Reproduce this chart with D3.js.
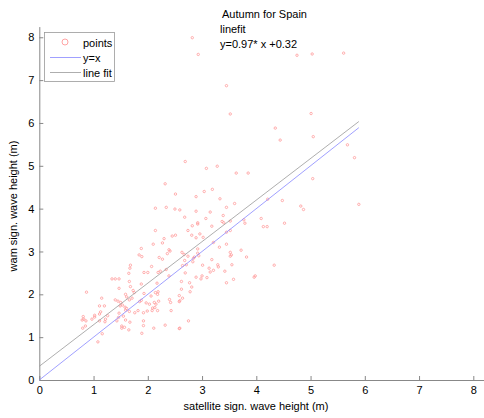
<!DOCTYPE html>
<html><head><meta charset="utf-8">
<script src="https://cdn.jsdelivr.net/npm/d3@7"></script>
<style>body{margin:0;background:#fff}svg{display:block;font-family:"Liberation Sans",Arial,sans-serif}</style>
</head><body><svg id="c" width="484" height="418"></svg>
<script>
const titleLines = ["Autumn for Spain", "linefit", "y=0.97* x +0.32"];
const xLabel = "satellite sign. wave height (m)";
const yLabel = "wam sign. wave height (m)";
const xTicks = [0,1,2,3,4,5,6,7,8];
const yTicks = [0,1,2,3,4,5,6,7,8];
const fitSlope = 0.97, fitIntercept = 0.32;
const legendLabels = ["points", "y=x", "line fit"];
const satX = [2.82,2.93,4.75,5.03,5.61,3.45,3.52,5.01,4.35,4.44,5.05,5.68,5.81,5.04,5.89,4.48,4.82,4.87,4.52,3.08,3.28,3.63,3.85,3.04,3.19,3.33,3.60,3.45,4.21,3.15,3.07,3.39,3.37,3.40,3.52,3.52,3.18,2.96,3.02,4.09,4.13,4.20,3.77,3.79,3.45,3.21,3.32,3.45,3.72,3.52,3.52,3.54,3.82,3.18,3.55,3.01,3.13,3.21,3.15,3.29,3.30,3.42,4.33,3.00,2.98,3.09,3.58,3.45,3.96,3.98,
2.63,2.67,2.92,2.92,2.94,2.86,2.84,2.74,2.68,2.83,2.64,2.71,2.69,2.89,2.62,2.77,2.81,2.78,2.62,2.64,2.59,2.75,2.59,
2.69,2.89,2.59,2.89,2.68,2.82,2.92,2.92,2.74,2.81,2.89,
2.32,2.51,2.14,2.34,2.50,2.14,2.30,2.45,2.51,
1.88,2.10,2.27,1.84,1.89,2.21,2.27,2.36,2.39,2.41,1.68,1.67,1.65,2.07,1.93,2.00,2.19,2.23,2.34,2.39,1.34,1.40,1.47,1.66,1.88,2.17,1.68,0.87,1.47,1.73,1.75,1.59,1.61,1.93,2.14,2.18,2.19,2.06,1.15,1.40,1.45,1.50,1.66,1.71,1.85,1.88,1.97,2.03,2.12,2.15,2.20,2.40,2.42,2.58,2.58,1.11,1.20,1.49,1.53,1.58,1.59,1.61,1.66,1.76,1.82,1.92,1.99,2.08,2.09,2.13,2.18,2.43,1.02,1.02,1.11,1.47,1.46,1.55,1.59,1.67,1.92,0.82,0.79,0.97,1.22,1.21,1.43,0.80,0.85,1.52,1.52,1.57,1.65,1.89,1.92,2.11,2.32,1.08,1.16,2.58,0.81,1.13,1.26,1.11,0.86];
const wamY = [7.99,7.60,7.58,7.61,7.63,6.87,6.21,6.22,5.88,5.60,5.68,5.49,5.19,4.70,4.10,4.19,4.06,3.98,3.66,4.94,4.99,4.83,4.83,4.40,4.45,4.23,4.12,4.03,4.22,3.92,3.77,3.84,3.70,3.67,3.71,3.49,3.59,3.41,3.33,3.77,3.58,3.58,3.74,3.66,3.45,3.21,3.10,3.17,3.03,2.98,2.89,2.92,2.87,2.81,2.69,2.68,2.61,2.56,2.52,2.69,2.64,2.54,2.68,2.43,2.36,2.39,2.35,2.27,2.40,2.43,
2.98,2.93,3.06,2.96,2.90,2.87,2.84,2.89,2.79,2.76,2.67,2.69,2.50,2.40,2.30,2.27,2.17,2.06,2.12,1.91,1.85,1.38,1.21,
5.10,4.28,3.97,3.94,3.80,3.60,3.67,3.64,3.49,3.38,3.32,
4.58,4.34,4.01,4.03,3.99,3.49,3.30,3.36,3.38,
3.07,3.17,3.20,2.92,2.88,2.86,2.82,2.95,3.04,3.01,2.68,2.61,2.49,2.65,2.51,2.51,2.51,2.54,2.58,2.43,2.36,2.36,2.36,2.30,2.24,2.26,2.18,2.05,2.14,2.09,2.04,2.00,1.94,2.02,2.04,2.00,2.06,1.96,1.91,1.87,1.84,1.81,1.87,1.91,1.83,1.86,1.80,1.77,1.81,1.77,1.84,1.88,1.81,1.97,1.83,1.73,1.73,1.73,1.75,1.70,1.63,1.67,1.60,1.57,1.62,1.57,1.61,1.62,1.68,1.69,1.62,1.62,1.51,1.47,1.54,1.56,1.46,1.49,1.40,1.35,1.38,1.42,1.40,1.42,1.42,1.36,1.38,1.21,1.26,1.21,1.26,1.23,1.17,1.09,1.27,1.21,1.28,0.89,1.08,1.20,1.48,1.59,1.50,1.38,1.38];

const svg = d3.select("#c");
const x0 = 39.3, y0 = 380;
const x = d3.scaleLinear().domain([0, 8.2]).range([x0, x0 + 8.2 * 54.25]);
const y = d3.scaleLinear().domain([0, 8.25]).range([y0, y0 - 8.25 * 42.84]);
const axisColor = "#888";

const gx = svg.append("g").attr("transform", `translate(0,${y0})`)
  .call(d3.axisBottom(x).tickValues(xTicks).tickFormat(d3.format("d")).tickSizeInner(-4).tickSizeOuter(0).tickPadding(6));
const gy = svg.append("g").attr("transform", `translate(${x0},0)`)
  .call(d3.axisLeft(y).tickValues(yTicks).tickFormat(d3.format("d")).tickSizeInner(-4).tickSizeOuter(0).tickPadding(5));
[gx, gy].forEach(g => {
  g.select(".domain").attr("stroke", axisColor);
  g.selectAll(".tick line").attr("stroke", axisColor);
  g.selectAll(".tick text").attr("fill", "#000").attr("font-size", 11).attr("font-family", "Liberation Sans, Arial, sans-serif");
});

// points
const pts = satX.map((v, i) => [v, wamY[i]]);
svg.append("g").selectAll("circle").data(pts).join("circle")
  .attr("cx", d => x(d[0])).attr("cy", d => y(d[1])).attr("r", 1.2)
  .attr("fill", "none").attr("stroke", "#ff9a9a").attr("stroke-width", 0.8);

const xMax = d3.max(satX);
const line = d3.line().x(d => x(d[0])).y(d => y(d[1]));
svg.append("path").attr("d", line([[0, 0], [xMax, xMax]]))
  .attr("stroke", "#8888ff").attr("stroke-width", 0.8).attr("fill", "none");
svg.append("path").attr("d", line([[0, fitIntercept], [xMax, fitSlope * xMax + fitIntercept]]))
  .attr("stroke", "#999").attr("stroke-width", 0.8).attr("fill", "none");

// title lines
titleLines.forEach((t, i) => {
  svg.append("text").attr("x", i === 0 ? 222 : 220).attr("y", 18 + i * 15)
    .attr("font-size", 11).attr("fill", "#000").text(t);
});

// axis labels
svg.append("text").attr("x", 256).attr("y", 410).attr("text-anchor", "middle")
  .attr("font-size", 11).text(xLabel);
svg.append("text").attr("transform", "translate(17,206) rotate(-90)").attr("text-anchor", "middle")
  .attr("font-size", 11).text(yLabel);

// legend
const lg = svg.append("g");
lg.append("rect").attr("x", 44.5).attr("y", 32.5).attr("width", 70).attr("height", 49)
  .attr("fill", "#fff").attr("stroke", "#999").attr("stroke-width", 0.8);
lg.append("circle").attr("cx", 65).attr("cy", 42).attr("r", 3)
  .attr("fill", "none").attr("stroke", "#ff9a9a").attr("stroke-width", 0.9);
lg.append("line").attr("x1", 50).attr("x2", 81).attr("y1", 57.5).attr("y2", 57.5)
  .attr("stroke", "#8888ff").attr("stroke-width", 0.8);
lg.append("line").attr("x1", 50).attr("x2", 81).attr("y1", 72.5).attr("y2", 72.5)
  .attr("stroke", "#999").attr("stroke-width", 0.8);
legendLabels.forEach((t, i) => {
  lg.append("text").attr("x", 83).attr("y", 47 + i * 15).attr("font-size", 11).text(t);
});
</script></body></html>
